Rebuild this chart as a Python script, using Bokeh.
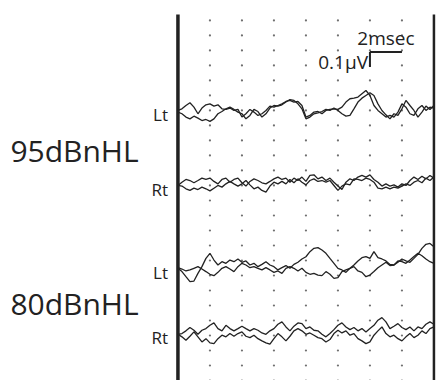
import numpy as np
from bokeh.plotting import figure
from bokeh.core.properties import value
from bokeh.embed import file_html
from bokeh.resources import INLINE

# ---------------- data (µV, sampled every 0.25 ms from 0 to 16 ms) ----------------
lt95_a = [0, 0.011, 0.033, 0.051, 0.022, -0.022, 0.016, 0.038, 0.044, 0.029, 0.038, 0.011, 0.007, 0.016, 0, 0.007,
          -0.044, -0.022, 0.007, -0.011, -0.033, -0.022, 0, 0.029, 0.022, 0.033, 0.044, 0.060, 0.067, 0.056, 0.060, 0.033,
          -0.044, -0.033, -0.011, -0.007, -0.022, 0, 0.007, 0.011, 0.007, 0.022, 0.056, 0.078, 0.082, 0.089, 0.111, 0.133,
          0.100, 0.033, 0, -0.022, -0.044, -0.033, -0.044, -0.011, 0.044, 0.022, -0.022, -0.033, 0.011, 0.033, 0, 0.022, 0.016]
lt95_b = [-0.011, -0.022, -0.044, -0.056, -0.038, -0.051, -0.067, -0.060, -0.073, -0.056, -0.022, -0.007, 0.011, 0.022, 0.007, -0.011,
          -0.022, -0.056, -0.033, 0.007, -0.007, -0.044, -0.022, 0.016, 0.033, 0.029, 0.038, 0.056, 0.073, 0.067, 0.044, 0.011,
          -0.056, -0.044, -0.022, -0.016, -0.007, 0.007, 0, 0.016, 0, -0.022, -0.038, -0.033, 0.011, 0.056, 0.082, 0.100,
          0.118, 0.100, 0.044, 0, -0.029, -0.056, -0.022, -0.033, 0.011, 0.067, 0.033, 0, -0.044, -0.011, 0.029, 0.007, 0.033]
rt95_a = [0, 0.022, 0.04, 0.033, 0.018, 0.033, 0.049, 0.04, 0.049, 0.027, 0.011, 0.04, 0.049, 0.022, 0.04, 0.049,
          0.018, -0.004, 0.027, 0.044, 0.033, 0.018, 0.011, 0.027, 0.044, 0.056, 0.04, 0.049, 0.022, 0.049, 0.033, 0.056,
          0.027, 0.067, 0.071, 0.044, 0.056, 0.033, 0.049, 0.022, -0.004, -0.027, 0.022, 0.044, 0.033, 0.056, 0.067, 0.056,
          0.071, 0.04, 0.022, -0.004, 0.011, -0.004, 0.004, -0.011, 0.011, 0, 0.033, 0.056, 0.04, 0.062, 0.044, 0.067, 0.049]
rt95_b = [0, -0.004, -0.022, -0.033, -0.018, -0.027, -0.011, -0.022, -0.036, -0.018, 0, -0.011, 0.011, 0.027, 0.011, -0.004,
          0.011, 0.033, 0.004, -0.022, -0.011, -0.033, -0.044, -0.004, 0.022, 0.011, 0.027, 0.011, 0.04, 0.018, 0.044, 0.022,
          0.004, 0.033, 0.044, 0.027, 0.033, 0.022, 0.033, 0, -0.033, -0.004, 0.011, 0.004, 0.044, 0.04, 0.033, 0.049,
          0.04, 0.022, -0.018, -0.022, -0.011, -0.022, -0.011, -0.018, -0.004, 0.011, 0, 0.022, 0.033, 0.018, 0.049, 0.033, 0.056]
lt80_a = [-0.002, -0.024, -0.058, -0.091, -0.087, -0.036, 0.009, 0.064, 0.098, 0.053, 0.02, 0.042, 0.031, 0.053, 0.042, 0.06,
          0.038, 0.047, 0.02, 0.031, 0.009, 0.024, 0.042, 0.02, 0.009, -0.013, 0.002, 0.016, -0.002, 0.024, 0.038, 0.06,
          0.075, 0.109, 0.131, 0.136, 0.12, 0.098, 0.064, 0.031, -0.002, -0.013, -0.029, -0.002, 0.009, -0.02, -0.029, -0.058,
          -0.047, -0.024, 0.002, 0.02, 0.038, 0.016, 0.02, 0.047, 0.042, 0.031, 0.053, 0.076, 0.098, 0.082, 0.06, 0.042, 0.031]
lt80_b = [0.002, -0.007, -0.02, -0.013, -0.002, 0.009, -0.007, -0.024, -0.042, -0.051, -0.029, -0.002, 0.009, -0.007, -0.024, 0.009,
          0.031, 0.02, 0.002, 0.009, -0.002, -0.013, 0.002, -0.013, -0.029, -0.02, -0.036, -0.002, 0.009, -0.002, -0.02, -0.002,
          -0.029, -0.042, -0.036, -0.047, -0.051, -0.024, -0.042, -0.069, -0.064, -0.024, -0.013, -0.002, 0.02, 0.047, 0.069, 0.076,
          0.064, 0.109, 0.069, 0.06, 0.047, 0.024, 0.02, 0.038, 0.06, 0.047, 0.038, 0.064, 0.091, 0.131, 0.158, 0.164, 0.142]
rt80_a = [-0.007, -0.002, 0.016, 0.038, 0.02, -0.007, 0.02, 0.031, 0.053, 0.069, 0.031, 0.016, 0.053, 0.031, 0.016, 0.031,
          0.047, 0.031, 0.016, 0.031, 0.02, 0.002, -0.007, 0.016, 0.031, 0.06, 0.076, 0.042, 0.016, 0.047, 0.069, 0.064,
          0.031, 0.042, 0.02, 0.016, -0.007, -0.024, -0.002, 0.024, 0.053, 0.069, 0.042, 0.024, 0.038, 0.016, 0.031, 0.009,
          0.031, 0.053, 0.087, 0.104, 0.076, 0.031, 0.047, 0.064, 0.038, 0.024, 0.042, 0.016, 0.042, 0.031, 0.06, 0.076, 0.06]
rt80_b = [-0.007, -0.024, -0.047, -0.02, 0.009, -0.024, -0.058, -0.036, -0.064, -0.069, -0.036, -0.013, -0.024, -0.002, -0.02, -0.002,
          0.009, -0.02, -0.029, -0.013, -0.036, -0.051, -0.064, -0.073, -0.036, -0.002, -0.024, -0.051, -0.02, 0.016, 0.031, 0.016,
          -0.007, 0.002, -0.013, -0.029, -0.036, -0.058, -0.042, -0.002, 0.02, 0.002, 0.016, -0.013, -0.002, -0.036, -0.051, -0.069,
          -0.058, -0.013, 0.016, 0.042, -0.002, -0.024, -0.013, -0.036, -0.051, -0.024, -0.002, -0.029, -0.013, 0.016, -0.002, 0.031, 0.042]

levels = ["95dBnHL", "80dBnHL"]
ears = ["Lt", "Rt"]
traces = {("95dBnHL", "Lt"): [lt95_a, lt95_b],
          ("95dBnHL", "Rt"): [rt95_a, rt95_b],
          ("80dBnHL", "Lt"): [lt80_a, lt80_b],
          ("80dBnHL", "Rt"): [rt80_a, rt80_b]}
sweep_ms = 16
grid_ms = [2, 4, 6, 8, 10, 12, 14]
scale_ms = 2
scale_uv = 0.1

# ---------------- layout ----------------
baselines = {("95dBnHL", "Lt"): 1.80, ("95dBnHL", "Rt"): 1.30,
             ("80dBnHL", "Lt"): 0.75, ("80dBnHL", "Rt"): 0.315}
INK = "#222222"

p = figure(width=436, height=380, x_range=(-11.09, 16.16), y_range=(0, 2.533),
           output_backend="svg", toolbar_location=None, min_border=0)
p.axis.visible = False
p.grid.visible = False
p.outline_line_color = None
p.background_fill_color = "white"
p.border_fill_color = "white"

# dotted grid
gx, gy = [], []
for r in range(25):
    for c in grid_ms:
        gx.append(c)
        gy.append(r * 0.1)
p.scatter(gx, gy, size=2.2, color="#707070", line_color=None)

# frame lines
p.segment(x0=[0], y0=[0], x1=[0], y1=[2.44], line_width=3.5, line_color=INK)
p.segment(x0=[sweep_ms], y0=[0], x1=[sweep_ms], y1=[2.44], line_width=2.5, line_color=INK)

# traces
for key, pair in traces.items():
    base = baselines[key]
    for tr in pair:
        t = np.linspace(0, sweep_ms, len(tr))
        p.line(t, np.array(tr) + base, line_color=INK, line_width=1.3)
    p.text(x=[-0.62], y=[base - 0.03], text=[key[1]], text_font=value("Open Sans"),
           text_font_size="17px", text_align="right", text_baseline="middle", text_color=INK)

for lvl in levels:
    mid = (baselines[(lvl, "Lt")] + baselines[(lvl, "Rt")]) / 2 - 0.02
    p.text(x=[-10.47], y=[mid], text=[lvl], text_font=value("Open Sans"),
           text_font_size="30px", text_align="left", text_baseline="middle", text_color=INK)

# scale bar
sx, sy = 12, 2.19
p.line([sx, sx + scale_ms], [sy, sy], line_width=2, line_color=INK)
p.line([sx, sx], [sy, sy - scale_uv], line_width=2, line_color=INK)
p.text(x=[sx + scale_ms / 2], y=[sy + 0.095], text=[f"{scale_ms}msec"], text_font=value("Open Sans"),
       text_font_size="19px", text_align="center", text_baseline="alphabetic", text_color=INK)
p.text(x=[sx - 0.12], y=[sy - scale_uv + 0.035], text=[f"{scale_uv}µV"], text_font=value("Open Sans"),
       text_font_size="19px", text_align="right", text_baseline="alphabetic", text_color=INK)

open("out.html", "w").write(file_html(p, INLINE))
